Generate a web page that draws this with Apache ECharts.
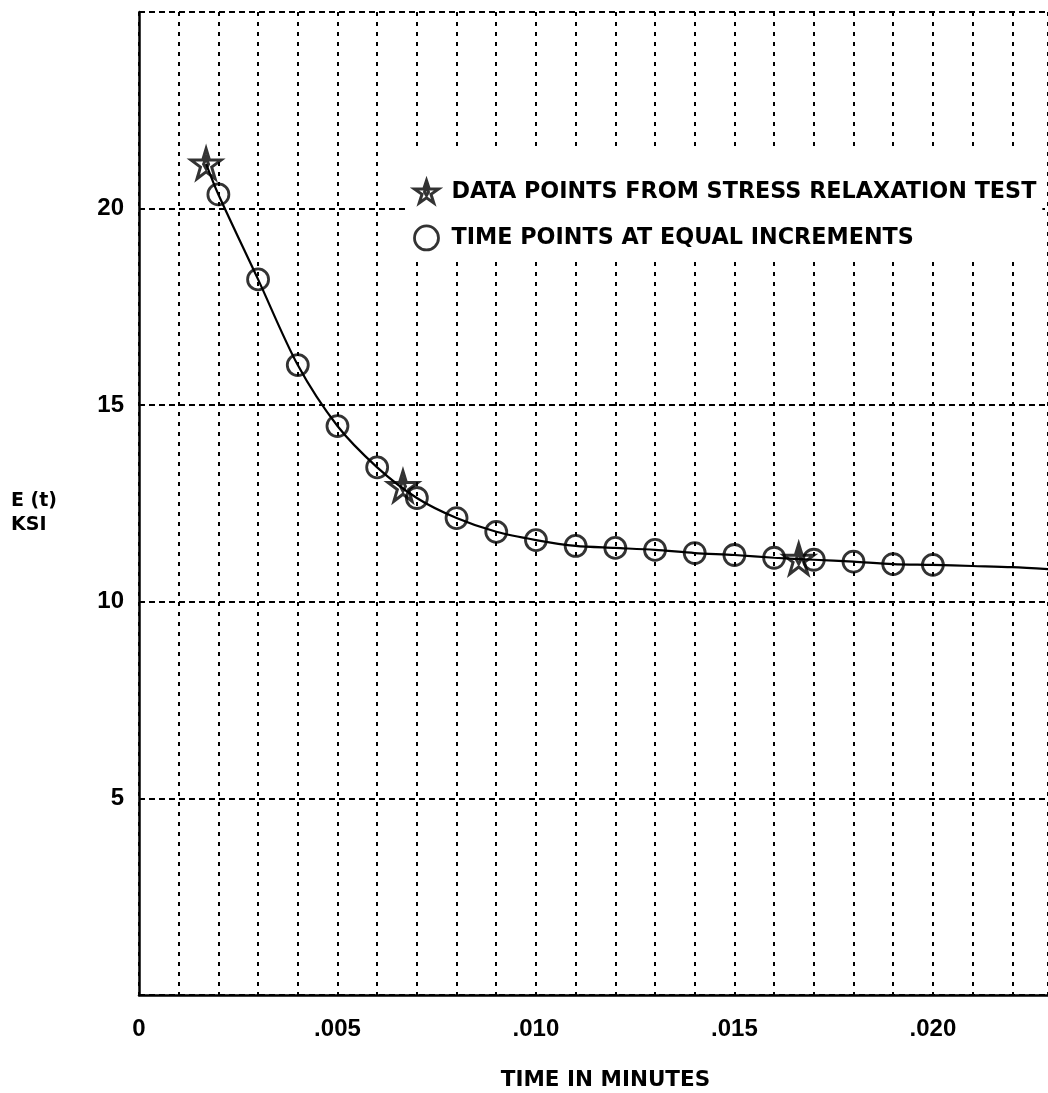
<!DOCTYPE html>
<html>
<head>
<meta charset="utf-8">
<script src="https://cdn.jsdelivr.net/npm/echarts@6/dist/echarts.min.js"></script>
<style>
html,body{margin:0;padding:0;background:#fff;}
#chart{width:1048px;height:1093px;}
</style>
</head>
<body>
<div id="chart"></div>
<script>
// ---- data ----
const timePointsT = [0.002,0.003,0.004,0.005,0.006,0.007,0.008,0.009,0.010,0.011,0.012,0.013,0.014,0.015,0.016,0.017,0.018,0.019,0.020];
const timePointsE = [20.36,18.20,16.02,14.47,13.42,12.64,12.13,11.78,11.57,11.42,11.37,11.32,11.24,11.19,11.12,11.07,11.02,10.96,10.94];
const testPointsT = [0.00169,0.00665,0.01662];
const testPointsE = [21.14,12.94,11.09];
const curveT = [0.00169,0.002,0.003,0.004,0.005,0.006,0.007,0.008,0.009,0.010,0.011,0.012,0.013,0.014,0.015,0.016,0.017,0.018,0.019,0.020,0.021,0.022,0.0229];
const curveE = [21.14,20.36,18.20,16.02,14.47,13.42,12.64,12.13,11.78,11.57,11.42,11.37,11.32,11.24,11.19,11.12,11.07,11.02,10.96,10.94,10.91,10.88,10.83];
const yTickLabels = ['5','10','15','20'];
const xTickLabels = ['0','.005','.010','.015','.020'];
const seriesNames = ['DATA POINTS FROM STRESS RELAXATION TEST','TIME POINTS AT EQUAL INCREMENTS'];
const xAxisTitle = 'TIME IN MINUTES';
const yAxisTitle = ['E (t)','KSI'];

const starPath = 'path://M50,2 L61,36 L98,36 L68,57 L79,92 L50,71 L21,92 L32,57 L2,36 L39,36 Z M50,30 L58,48 L50,62 L42,48 Z';

const chart = echarts.init(document.getElementById('chart'), null, {renderer:'canvas'});
const numFont = '"Liberation Sans", Arial, sans-serif';
const txtFont = '"DejaVu Sans", sans-serif';

chart.setOption({
  animation:false,
  backgroundColor:'#fff',
  grid:{left:139, right:0, top:12, bottom:98, containLabel:false, outerBoundsMode:'none'},
  xAxis:{
    type:'value', min:0, max:0.0229, interval:0.001,
    axisLine:{show:true, onZero:false, lineStyle:{color:'#000', width:2.5}},
    axisTick:{show:false},
    splitLine:{show:true, lineStyle:{color:'#000', width:2, type:[4,6]}},
    axisLabel:{
      color:'#000', fontFamily:numFont, fontWeight:'bold', fontSize:24, margin:22,
      showMaxLabel:false,
      formatter:function(v){
        const k = Math.round(v*1000);
        if (k % 5 !== 0) return '';
        return xTickLabels[k/5] || '';
      }
    },
    name:xAxisTitle, nameLocation:'middle', nameGap:74,
    nameTextStyle:{color:'#000', fontFamily:txtFont, fontWeight:'bold', fontSize:21.5, padding:[0,0,0,24]}
  },
  yAxis:{
    type:'value', min:0, max:25, interval:5,
    axisLine:{show:true, onZero:false, lineStyle:{color:'#000', width:2.5}},
    axisTick:{show:false},
    splitLine:{show:true, lineStyle:{color:'#000', width:2, type:[6,4]}},
    axisLabel:{
      color:'#000', fontFamily:numFont, fontWeight:'bold', fontSize:24, margin:15,
      showMinLabel:false, showMaxLabel:false,
      formatter:function(v){
        const k = Math.round(v/5);
        return (k>=1 && k<=4) ? yTickLabels[k-1] : '';
      }
    }
  },
  graphic:[
    {type:'text', left:11, top:489, style:{text:yAxisTitle.join('\n'), fill:'#000', font:'bold 19px "DejaVu Sans", sans-serif', lineHeight:24}}
  ],
  legend:{
    orient:'vertical', left:407, top:152,
    padding:[27,6,10,6],
    backgroundColor:'#fff',
    itemWidth:24, itemHeight:24, itemGap:20,
    textStyle:{color:'#000', fontFamily:txtFont, fontWeight:'bold', fontSize:22.3, lineHeight:24, padding:[0,0,0,8]},
    data:[
      {name:seriesNames[0], icon:starPath, itemStyle:{color:'rgba(0,0,0,0)', borderColor:'#000', borderWidth:3}},
      {name:seriesNames[1], icon:'circle', itemStyle:{color:'rgba(0,0,0,0)', borderColor:'#000', borderWidth:2.8}}
    ],
    z:10
  },
  series:[
    {
      type:'line', name:'curve', data:curveT.map((t,i)=>[t,curveE[i]]),
      smooth:0.3, showSymbol:false, symbol:'none',
      lineStyle:{color:'#000', width:2.2}, z:3, silent:true
    },
    {
      type:'scatter', name:seriesNames[1], data:timePointsT.map((t,i)=>[t,timePointsE[i]]),
      symbol:'circle', symbolSize:21,
      itemStyle:{color:'rgba(0,0,0,0)', borderColor:'#000', borderWidth:2.8}, z:4
    },
    {
      type:'scatter', name:seriesNames[0], data:testPointsT.map((t,i)=>[t,testPointsE[i]]),
      symbol:starPath, symbolSize:30,
      itemStyle:{color:'rgba(0,0,0,0)', borderColor:'#000', borderWidth:3}, z:5
    }
  ]
});
</script>
</body>
</html>
